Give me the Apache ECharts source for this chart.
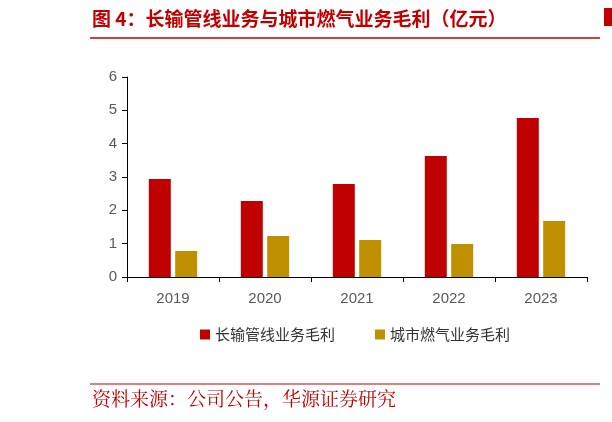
<!DOCTYPE html>
<html><head><meta charset="utf-8">
<script src="https://cdn.jsdelivr.net/npm/echarts@6/dist/echarts.min.js"></script>
<style>html,body{margin:0;padding:0;background:#fff}#c{width:612px;height:422px}</style>
</head><body><div id="c"></div>
<script>
const categories = ['2019','2020','2021','2022','2023'];
const pipelineProfit = [2.94, 2.28, 2.79, 3.63, 4.77];
const gasProfit = [0.78, 1.23, 1.11, 0.99, 1.68];
const yTicks = [0,1,2,3,4,5,6];
const chart = echarts.init(document.getElementById('c'));
chart.setOption({
  animation:false,
  graphic:[
    {type:'text',left:92,top:9,style:{text:'图 4：长输管线业务与城市燃气业务毛利（亿元）',fill:'#C00000',font:'bold 19px "Noto Sans CJK SC"'}},
    {type:'line',shape:{x1:90,y1:38,x2:600,y2:38},style:{stroke:'#C00000',lineWidth:1.5}},
    {type:'line',shape:{x1:90,y1:384,x2:600,y2:384},style:{stroke:'#C00000',lineWidth:1}},
    {type:'text',left:92,top:389,style:{text:'资料来源：公司公告，华源证券研究',fill:'#C00000',font:'19px "Noto Serif CJK SC","Noto Sans CJK SC"'}},
    {type:'rect',shape:{x:604,y:8,width:8,height:18},style:{fill:'#C00000'}}
  ],
  grid:{left:127,right:25,top:77,bottom:145},
  legend:{bottom:75,left:195,itemWidth:10,itemHeight:10,itemGap:40,icon:'rect',
    textStyle:{color:'#333',fontSize:15,fontFamily:'Noto Sans CJK SC'}},
  xAxis:{type:'category',data:categories,axisTick:{show:true,alignWithLabel:false,length:5,lineStyle:{color:'#000'}},
    axisLine:{lineStyle:{color:'#000'}},axisLabel:{color:'#595959',fontSize:15,margin:14}},
  yAxis:{type:'value',min:0,max:6,interval:1,splitLine:{show:false},
    axisLine:{show:true,lineStyle:{color:'#000'}},axisTick:{show:true,length:5,lineStyle:{color:'#000'}},
    axisLabel:{color:'#595959',fontSize:15,margin:10}},
  series:[
    {name:'长输管线业务毛利',type:'bar',data:pipelineProfit,barWidth:22,barGap:'20%',itemStyle:{color:'#C00000'}},
    {name:'城市燃气业务毛利',type:'bar',data:gasProfit,barWidth:22,itemStyle:{color:'#BF9000'}}
  ]
});
</script></body></html>
